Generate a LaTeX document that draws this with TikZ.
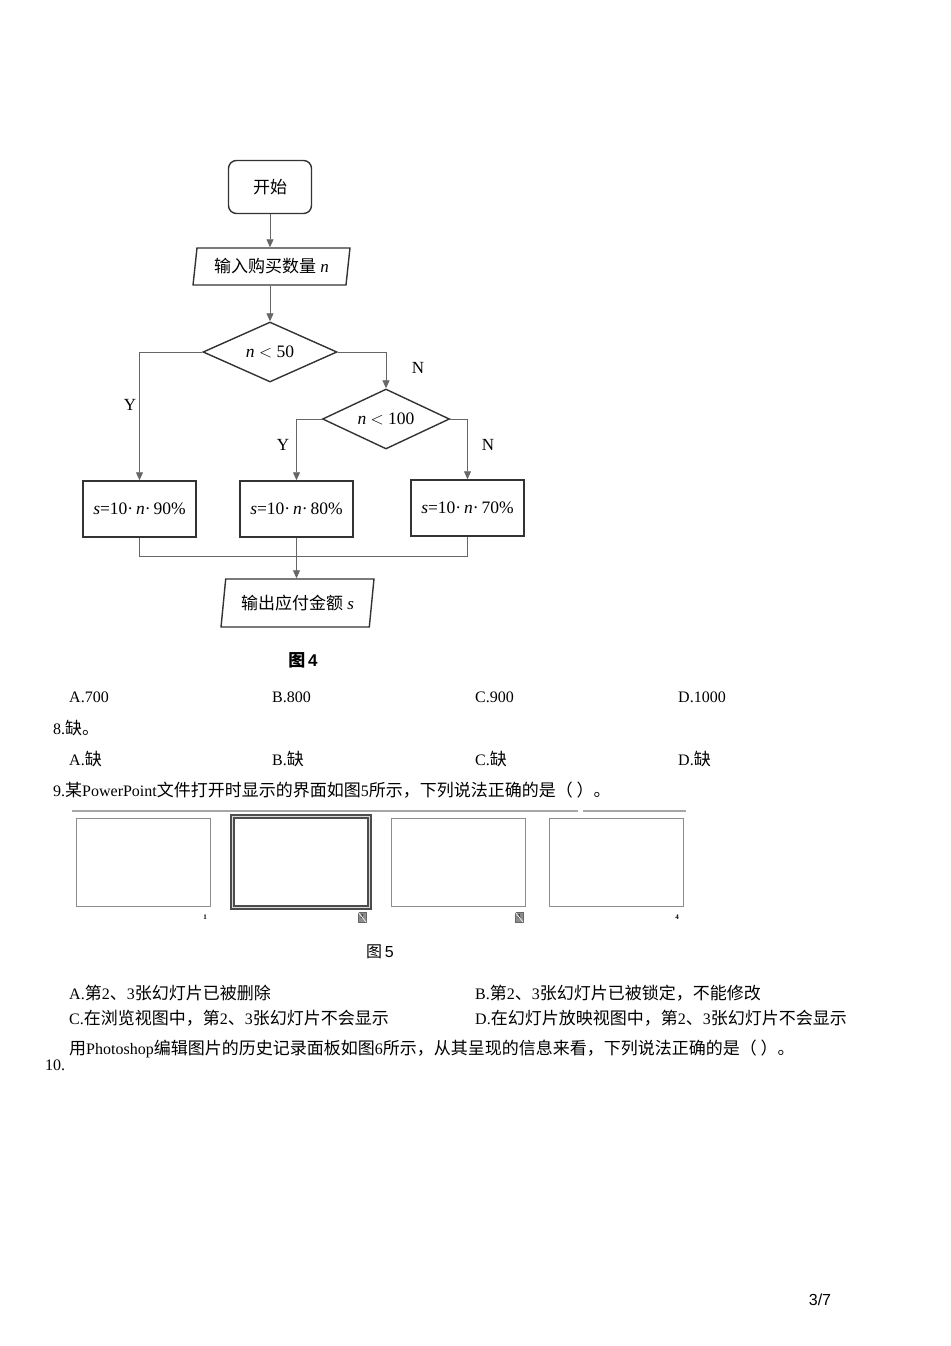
\documentclass[tikz,border=0pt]{standalone}
\usepackage{fontspec}
\setmainfont{Liberation Serif}
\newfontfamily\cjk{Noto Sans CJK SC}
\newfontfamily\sansf{Liberation Sans}
\usetikzlibrary{shapes.geometric,arrows.meta}
\newcommand{\zh}[1]{{\cjk\fontsize{17}{20}\selectfont #1}}
\begin{document}
\begin{tikzpicture}[x=1pt,y=-1pt,
  conn/.style={draw=black!60, line width=0.8pt},
  arr/.style={conn,-{Triangle[length=8pt,width=7pt]}},
  fbox/.style={draw=black!80, line width=1.5pt, minimum width=113pt, minimum height=56pt, inner sep=0pt, font=\fontsize{17.5}{20}\selectfont},
  dec/.style={diamond, shape aspect=2.2, draw=black!80, line width=1.4pt, inner sep=0pt, font=\fontsize{17.5}{20}\selectfont},
  io/.style={trapezium, trapezium stretches=true, draw=black!80, line width=1.4pt, inner sep=0pt, font=\fontsize{17}{20}\selectfont},
  lbl/.style={inner sep=0pt, font=\fontsize{17}{20}\selectfont},
  txt/.style={anchor=west, inner sep=0pt, font=\fontsize{16}{19}\selectfont},
  slide/.style={draw=black!45, line width=1pt, minimum width=134pt, minimum height=88pt, inner sep=0pt},
  hid/.style={fill=black!45, draw=black!60, line width=0.5pt, minimum width=8pt, minimum height=10pt, inner sep=0pt, font=\fontsize{6}{6}\selectfont},
  num/.style={inner sep=0pt, font=\bfseries\fontsize{7}{7}\selectfont}
]
\useasboundingbox (0,0) rectangle (950,1346);

% ---------- flowchart ----------
\node[draw=black!80, line width=1.4pt, rounded corners=8pt, minimum width=83pt, minimum height=53pt, inner sep=0pt] (start) at (270,187) {\zh{\fontsize{17}{20}\selectfont 开始}};
\node[io, trapezium left angle=79, trapezium right angle=101, minimum width=157pt, minimum height=37pt] (in) at (271.5,266.5) {\zh{\fontsize{17}{20}\selectfont 输入购买数量} \textit{n}};
\node[dec, minimum width=134pt, minimum height=60pt] (d1) at (270,352) {\textit{n} $<$ 50};
\node[dec, minimum width=127pt, minimum height=60pt] (d2) at (386,419) {\textit{n} $<$ 100};
\node[fbox] (b1) at (139.5,509) {\textit{s}=10·\,\textit{n}·\,90\%};
\node[fbox] (b2) at (296.5,509) {\textit{s}=10·\,\textit{n}·\,80\%};
\node[fbox] (b3) at (467.5,508) {\textit{s}=10·\,\textit{n}·\,70\%};
\node[io, trapezium left angle=77, trapezium right angle=103, minimum width=153pt, minimum height=48pt] (out) at (297.5,603) {\zh{\fontsize{17}{20}\selectfont 输出应付金额} \textit{s}};

\draw[arr] (start.south) -- (start.south |- in.north);
\draw[arr] (start.south |- in.south) -- (d1.north);
\draw[arr] (d1.west) -| (b1.north);
\draw[arr] (d1.east) -| (d2.north);
\draw[arr] (d2.west) -| (b2.north);
\draw[arr] (d2.east) -| (b3.north);
\coordinate (j1) at ([yshift=-19pt]b1.south);
\draw[conn] (b1.south) -- (j1) -| (b3.south);
\draw[arr] (b2.south) -- (b2.south |- out.north);

\node[lbl] (y1) at (130,405) {Y};
\node[lbl] (n1) at (418,368) {N};
\node[lbl] (y2) at (283,445) {Y};
\node[lbl] (n2) at (488,445) {N};

\node[inner sep=0pt] (cap4) at (303,660) {\cjk\bfseries\fontsize{17}{20}\selectfont 图\,{\sansf\bfseries 4}};

% ---------- question text ----------
\node[txt] (a7) at (69,697) {A.700};
\node[txt] (b8) at (272,697) {B.800};
\node[txt] (c9) at (475,697) {C.900};
\node[txt] (d10) at (678,697) {D.1000};
\node[txt] (q8) at (53,728) {8.\zh{缺。}};
\node[txt] (qa) at (69,759) {A.\zh{缺}};
\node[txt] (qb) at (272,759) {B.\zh{缺}};
\node[txt] (qc) at (475,759) {C.\zh{缺}};
\node[txt] (qd) at (678,759) {D.\zh{缺}};
\node[txt] (q9) at (53,790) {9.\zh{某}PowerPoint\zh{文件打开时显示的界面如图}5\zh{所示，下列说法正确的是（ ）。}};

% ---------- slides ----------
\draw[draw=black!35, line width=1.6pt] (72,811) -- (578,811);
\draw[draw=black!35, line width=1.6pt] (583,811) -- (686,811);
\node[slide] (s1) at (143,862) {};
\node[slide, draw=black!70, line width=1.6pt, double=black!15, double distance=1.2pt, minimum width=137pt, minimum height=91pt] (s2) at (301,862) {};
\node[slide] (s3) at (458,862) {};
\node[slide] (s4) at (616,862) {};
\node[num] (l1) at (205,917) {1};
\node[hid] (h2) at (362,917) {2};
\node[hid] (h3) at (519,917) {3};
\draw[white, line width=0.6pt] (h2.north west) -- (h2.south east);
\draw[white, line width=0.6pt] (h3.north west) -- (h3.south east);
\node[num] (l4) at (677,917) {4};
\node[inner sep=0pt] (cap5) at (380,952) {\cjk\fontsize{16}{19}\selectfont 图\,{\sansf 5}};

% ---------- options ----------
\node[txt] (oa) at (69,993) {A.\zh{第}2\zh{、}3\zh{张幻灯片已被删除}};
\node[txt] (ob) at (475,993) {B.\zh{第}2\zh{、}3\zh{张幻灯片已被锁定，不能修改}};
\node[txt] (oc) at (69,1018) {C.\zh{在浏览视图中，第}2\zh{、}3\zh{张幻灯片不会显示}};
\node[txt] (od) at (475,1018) {D.\zh{在幻灯片放映视图中，第}2\zh{、}3\zh{张幻灯片不会显示}};
\node[txt] (q10t) at (69,1049) {\zh{用}Photoshop\zh{编辑图片的历史记录面板如图}6\zh{所示，从其呈现的信息来看，下列说法正确的是（ ）。}};
\node[txt] (q10) at (45,1065) {10.};

\node[inner sep=0pt] (pg) at (820,1300) {\sansf\fontsize{16}{19}\selectfont 3/7};
\end{tikzpicture}
\end{document}
